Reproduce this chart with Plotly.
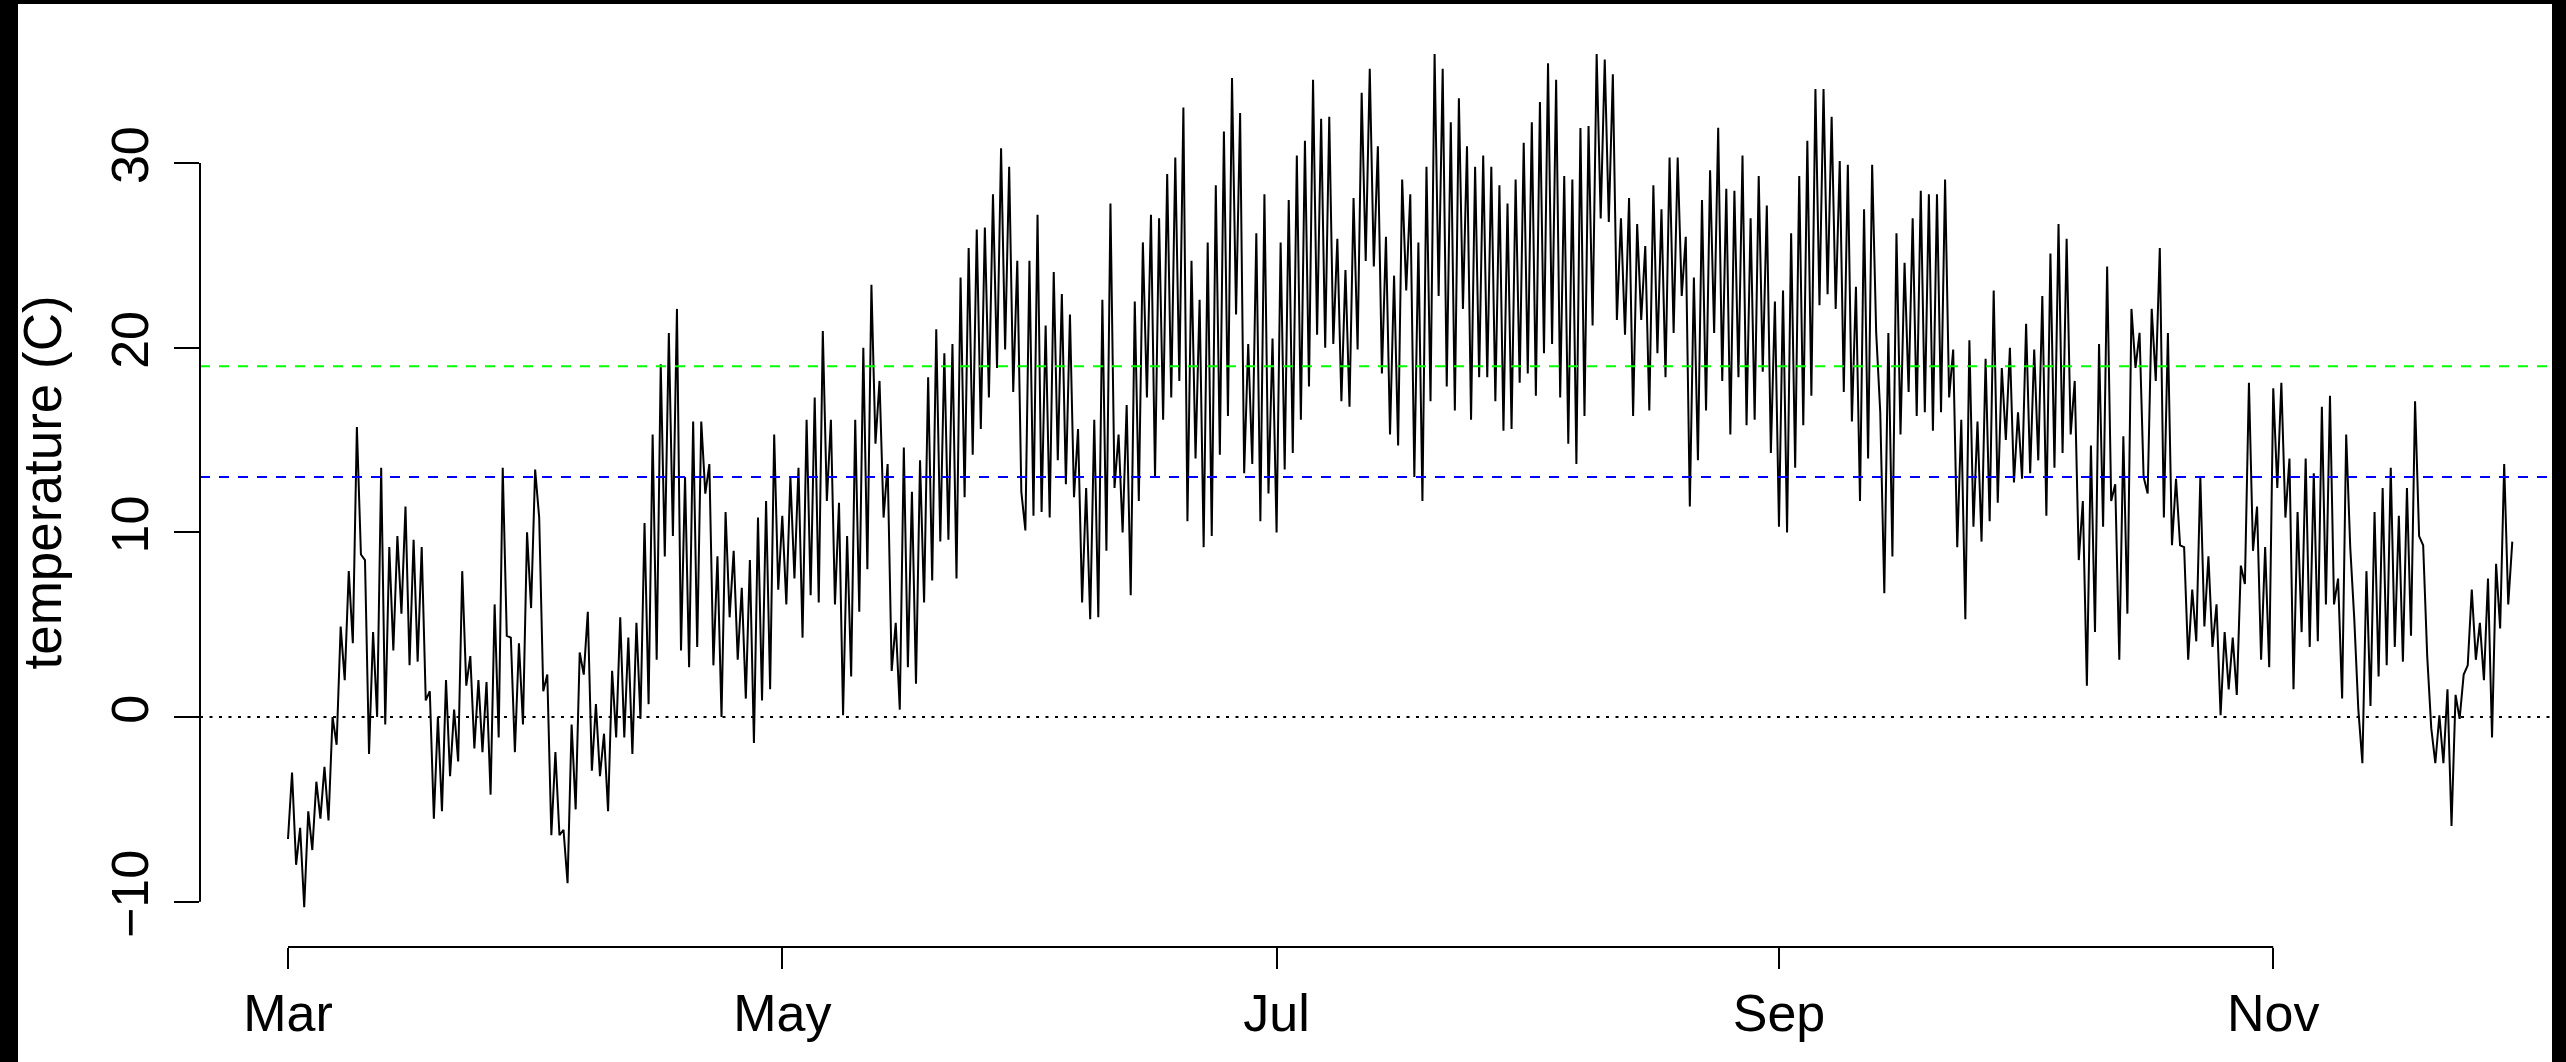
import pandas as pd
import plotly.graph_objects as go

# ---------------- data ----------------
START = "2021-03-01 00:00"      # first sample
STEP_HOURS = 12                 # one reading per half day (daily low / high)

temp_mar_apr = [-6.6, -3.0, -8, -6, -10.3, -5.1, -7.2, -3.5, -5.5, -2.7,
                -5.6, 0, -1.5, 4.9, 2, 7.9, 4, 15.7, 8.8, 8.5,
                -2, 4.6, 0, 13.5, -0.4, 9.2, 3.6, 9.8, 5.6, 11.4,
                2.8, 9.6, 3, 9.2, 0.9, 1.4, -5.5, 0, -5.1, 2,
                -3.2, 0.4, -2.4, 7.9, 1.7, 3.3, -1.7, 2, -1.9, 1.9,
                -4.2, 6.1, -1.1, 13.5, 4.4, 4.3, -1.9, 4, -0.4, 10,
                5.9, 13.4, 10.8, 1.4, 2.3, -6.4, -1.9, -6.4, -6.1, -9,
                -0.4, -5, 3.5, 2.3, 5.7, -2.9, 0.7, -3.2, -0.9, -5.1,
                2.5, -1.1, 5.4, -1.1, 4.3, -2, 5.1, -0.1, 10.5, 0.7]
temp_apr_may = [15.3, 3.1, 19.1, 8.7, 20.8, 9.8, 22.1, 3.6, 13,
                2.7, 16, 3.8, 16, 12.1, 13.7, 2.8, 8.7, 0, 11.1,
                5.4, 9, 3.1, 7, 1, 8.5, -1.4, 10.8, 0.9, 11.7,
                1.5, 15.3, 6.9, 10.9, 6.1, 13, 7.5, 13.5, 4.3, 16.1,
                6.6, 17.3, 6.2, 20.9, 11.7, 16.1, 6.1, 11.6, 0.1, 9.8,
                2.2, 16.1, 5.7, 20, 8, 23.4, 14.8, 18.2, 10.8, 13.7,
                2.5, 5.1, 0.4, 14.6, 2.7, 12.2, 1.8, 13.9, 6.2, 18.4,
                7.4, 21, 9.5, 19.7, 9.6, 20.2, 7.5, 23.8, 11.9, 25.4,
                14.2, 26.4, 15.6, 26.5, 17.3, 28.3, 18.9, 30.8, 19.9, 29.8,
                17.6, 24.7, 12.2]
temp_may_jul = [10.1, 24.7, 10.9, 27.2, 11.1, 21.2, 10.8, 24.1, 13.9, 22.9,
                12.6, 21.8, 11.9, 15.6, 6.2, 12.4, 5.3, 16.1, 5.4, 22.6,
                9, 27.8, 12.4, 15.3, 10, 16.9, 6.6, 22.5, 11.7, 25.7,
                17.3, 27.2, 13, 27, 16.1, 29.4, 17.3, 30.3, 18.2, 33,
                10.6, 24.7, 14, 22.6, 9.2, 25.7, 9.8, 28.8, 14.2, 31.7,
                16.3, 34.6, 21.8, 32.7, 13.2, 20.2, 13.7, 26.2, 10.6, 28.3,
                12.1, 20.5, 10, 25.7, 13.4, 28, 14.3, 30.4, 16.1, 31.2,
                17.9, 34.5, 20.7, 32.4, 20, 32.5, 20.2, 25.9, 17.1, 24.2,
                16.8, 28.1, 19.9, 33.8, 24.7, 35.1, 24.4, 30.9, 18.6, 26,
                15.3, 23.9]
temp_jul_aug = [14.7, 29.1, 23.1, 28.3, 13, 25.7, 11.7, 29.8, 17.1, 35.9,
                22.8, 35.1, 17.9, 32.2, 16.6, 33.5, 22.1, 30.9, 16.1, 29.8,
                18.4, 30.4, 18.4, 29.8, 17.1, 28.8, 15.5, 27.8, 15.6, 29.1,
                18.1, 31.1, 18.6, 32.2, 17.4, 33.3, 19.7, 35.4, 20.2, 34.5,
                17.3, 29.3, 14.8, 29.1, 13.7, 31.9, 16.3, 32, 21.2, 35.9,
                27, 35.6, 26.8, 34.8, 21.5, 27, 20.7, 28.1, 16.3, 26.7,
                21.5, 25.5, 16.6, 28.8, 19.7, 27.5, 18.4, 30.3, 20.8, 30.3,
                22.8, 26, 11.4, 23.8, 13.9, 28, 16.6, 29.6, 20.8, 31.9,
                18.2, 28.6, 15.3, 28.5, 18.4, 30.4, 15.8, 27, 16.1, 29.3,
                18.7, 27.7, 14.3]
temp_aug_oct = [22.5, 10.3, 23.1, 10, 26.2, 13.5, 29.3, 15.8, 31.2,
                17.4, 34, 22.3, 34, 22.9, 32.5, 22.1, 30.1, 17.6, 29.9,
                16, 23.3, 11.7, 27.5, 14, 29.9, 20.8, 16.5, 6.7, 20.8,
                8.7, 26.2, 15.3, 24.6, 17.6, 27, 16.3, 28.5, 16.5, 28.3,
                15.5, 28.3, 16.5, 29.1, 17.3, 19.9, 9.2, 16.1, 5.3, 20.4,
                10.3, 16, 9.5, 19.4, 10.6, 23.1, 11.6, 18.9, 15, 20,
                12.7, 16.5, 12.9, 21.3, 13.2, 19.9, 13.9, 22.8, 10.9, 25.1,
                13.5, 26.7, 14.3, 25.9, 15.3, 18.2, 8.5, 11.7, 1.7, 14.7,
                4.6, 20.2, 10.3, 24.4, 11.7, 12.6, 3.1, 15.2, 5.6, 22.1,
                18.9, 20.8, 13]
temp_oct_nov = [12.1, 22.1, 18.2, 25.4, 10.8, 20.8, 9.3, 12.9, 9.3, 9.2,
                3.1, 6.9, 4.1, 13, 4.9, 8.7, 3.8, 6.1, 0.1, 4.6,
                1.5, 4.3, 1.2, 8.2, 7.2, 18.1, 9, 11.4, 3.1, 9.2,
                2.7, 17.8, 12.4, 18.1, 10.8, 14, 1.5, 11.1, 4.6, 14,
                3.8, 13.2, 4.1, 16.8, 6.1, 17.4, 6.1, 7.5, 1, 15.3,
                9.2, 5.3, 0.4, -2.5, 7.9, 0.6, 11.1, 2.2, 12.4, 2.8,
                13.5, 3.8, 10.9, 3, 12.4, 4.4, 17.1, 9.8, 9.3, 3.3,
                -0.6, -2.5, 0.1, -2.5, 1.5, -5.9, 1.2, -0.1, 2.3, 2.8,
                6.9, 3.1, 5.1, 2, 7.5, -1.1, 8.3, 4.8, 13.7, 6.1,
                9.5]

month_ticks = ["2021-03-01", "2021-05-01", "2021-07-01", "2021-09-01", "2021-11-01"]
month_labels = ["Mar", "May", "Jul", "Sep", "Nov"]
y_ticks = [-10, 0, 10, 20, 30]
ref_zero = 0
ref_blue = 13
ref_green = 19

temperature = (temp_mar_apr + temp_apr_may + temp_may_jul
               + temp_jul_aug + temp_aug_oct + temp_oct_nov)
times = pd.date_range(START, periods=len(temperature), freq=f"{STEP_HOURS}h")

# ---------------- layout geometry ----------------
W_FIG, H_FIG = 2566, 1062
L, R, T, B = 200, 14, 18, 115
PW = W_FIG - L - R
PH = H_FIG - T - B

def px_x(p):
    return (p - L) / PW

def px_y(p):
    return (H_FIG - B - p) / PH

t0 = pd.Timestamp(START)
x_range = [t0 - pd.Timedelta(days=10.86), t0 + pd.Timedelta(days=279.4)]
y_range = [-12.45, 37.85]

FONT = "Liberation Sans, Arial, Helvetica, sans-serif"

fig = go.Figure()
fig.add_trace(go.Scatter(
    x=times, y=temperature, mode="lines",
    line=dict(color="black", width=2),
    hoverinfo="skip", showlegend=False,
))

shapes = []
# reference lines
shapes.append(dict(type="line", xref="paper", yref="y", x0=0, x1=1,
                   y0=ref_green, y1=ref_green,
                   line=dict(color="#00ff00", width=2, dash="10px,9px")))
shapes.append(dict(type="line", xref="paper", yref="y", x0=0, x1=1,
                   y0=ref_blue, y1=ref_blue,
                   line=dict(color="#0000ff", width=2, dash="10px,9px")))
shapes.append(dict(type="line", xref="paper", yref="y", x0=0, x1=1,
                   y0=ref_zero, y1=ref_zero,
                   line=dict(color="black", width=2, dash="3px,6.5px")))
# R-style axis lines spanning only the tick range
shapes.append(dict(type="line", xref="paper", yref="y", x0=0, x1=0,
                   y0=y_ticks[0], y1=y_ticks[-1],
                   line=dict(color="black", width=2)))
shapes.append(dict(type="line", xref="x", yref="paper",
                   x0=month_ticks[0], x1=month_ticks[-1], y0=0, y1=0,
                   line=dict(color="black", width=2)))
# black frame strips of the screenshot
black = dict(color="black", width=0)
shapes.append(dict(type="rect", xref="paper", yref="paper", layer="above",
                   x0=px_x(0), x1=px_x(18), y0=px_y(H_FIG), y1=px_y(0),
                   fillcolor="black", line=black))
shapes.append(dict(type="rect", xref="paper", yref="paper", layer="above",
                   x0=px_x(0), x1=px_x(W_FIG), y0=px_y(4), y1=px_y(0),
                   fillcolor="black", line=black))
shapes.append(dict(type="rect", xref="paper", yref="paper", layer="above",
                   x0=px_x(2552), x1=px_x(W_FIG), y0=px_y(H_FIG), y1=px_y(0),
                   fillcolor="black", line=black))

fig.update_layout(
    width=W_FIG, height=H_FIG,
    margin=dict(l=L, r=R, t=T, b=B, pad=0),
    paper_bgcolor="white", plot_bgcolor="white",
    font=dict(family=FONT, color="black", size=52),
    shapes=shapes,
    annotations=[dict(text="temperature (C)", xref="paper", yref="paper",
                      x=px_x(42), y=0.5, xanchor="center", yanchor="middle",
                      textangle=-90, showarrow=False,
                      font=dict(family=FONT, size=53, color="black"))],
    xaxis=dict(type="date", range=x_range, showgrid=False, zeroline=False,
               showline=False, tickmode="array", tickvals=month_ticks,
               ticktext=month_labels, ticks="outside", ticklen=21,
               tickwidth=2, tickcolor="black",
               tickfont=dict(family=FONT, size=52, color="black")),
    yaxis=dict(range=y_range, showgrid=False, zeroline=False, showline=False,
               tickmode="array", tickvals=y_ticks, ticks="outside",
               ticklen=25, tickwidth=2, tickcolor="black", tickangle=-90,
               ticklabelstandoff=5,
               tickfont=dict(family=FONT, size=52, color="black")),
)

fig.write_html("out.html",
               config={"displayModeBar": False},
               post_script="document.body.style.margin='0';document.body.style.overflow='hidden';")
